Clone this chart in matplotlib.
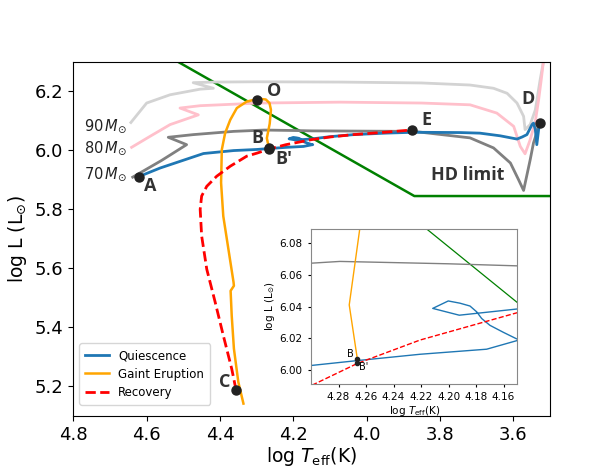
import matplotlib
matplotlib.use("Agg")
import matplotlib.pyplot as plt

# ---------------- data ----------------
# HD limit
hd_T = [4.60, 4.515, 3.870, 3.50]
hd_L = [6.36, 6.30, 5.845, 5.845]

# 90 Msun track (light grey)
m90_T = [4.643, 4.600, 4.536, 4.454, 4.418, 4.473, 4.418, 4.300, 4.072, 3.850, 3.718, 3.654,
         3.617, 3.590, 3.572, 3.568, 3.554, 3.540, 3.527, 3.518]
m90_L = [6.094, 6.160, 6.188, 6.207, 6.210, 6.229, 6.231, 6.232, 6.231, 6.228, 6.221, 6.210,
         6.193, 6.160, 6.115, 6.070, 6.087, 6.137, 6.238, 6.300]

# 80 Msun track (pink)
m80_T = [4.641, 4.591, 4.536, 4.459, 4.509, 4.454, 4.291, 4.072, 3.850, 3.718, 3.645, 3.599,
         3.581, 3.568, 3.554, 3.540, 3.531, 3.524, 3.518]
m80_L = [6.010, 6.047, 6.087, 6.120, 6.143, 6.151, 6.160, 6.163, 6.160, 6.154, 6.126, 6.081,
         6.013, 5.988, 6.036, 6.098, 6.171, 6.238, 6.300]

# 70 Msun track (grey)
m70_T = [4.638, 4.560, 4.491, 4.541, 4.473, 4.363, 4.279, 4.200, 4.150, 3.872, 3.718, 3.654,
         3.608, 3.586, 3.572, 3.554, 3.545, 3.536, 3.532]
m70_L = [5.909, 5.965, 6.019, 6.044, 6.053, 6.064, 6.0685, 6.067, 6.0657, 6.064, 6.042, 6.008,
         5.957, 5.901, 5.864, 5.968, 6.025, 6.060, 6.085]

# Quiescence (blue)
q_T = [4.621, 4.563, 4.445, 4.363, 4.300, 4.2663, 4.2207, 4.1723, 4.1504, 4.147, 4.1504,
       4.1602, 4.1699, 4.1759, 4.1795, 4.1844, 4.1917, 4.2002, 4.2115, 4.1922, 4.1504,
       4.100, 4.036, 3.950, 3.872, 3.745, 3.691, 3.636, 3.590, 3.576, 3.563, 3.549,
       3.545, 3.540, 3.536, 3.531, 3.527]
q_L = [5.911, 5.940, 5.989, 5.999, 6.0027, 6.0058, 6.0098, 6.0130, 6.0184, 6.0190, 6.0195,
       6.0237, 6.0281, 6.0324, 6.0366, 6.0403, 6.0421, 6.0435, 6.0388, 6.0345, 6.0384,
       6.046, 6.053, 6.058, 6.061, 6.060, 6.058, 6.049, 6.038, 6.045, 6.053, 6.087,
       6.092, 6.070, 6.019, 6.070, 6.090]

# Giant eruption (orange)
g_T = [4.2663, 4.2722, 4.2644, 4.261, 4.265, 4.275, 4.290, 4.310, 4.327, 4.354, 4.372,
       4.386, 4.395, 4.397, 4.391, 4.377, 4.363, 4.362, 4.371, 4.368, 4.362, 4.350, 4.336]
g_L = [6.0068, 6.041, 6.090, 6.137, 6.160, 6.172, 6.174, 6.170, 6.165, 6.143, 6.103,
       6.058, 6.002, 5.890, 5.777, 5.665, 5.553, 5.541, 5.524, 5.440, 5.328, 5.215, 5.142]

# Recovery (red dashed)
r_T = [4.356, 4.368, 4.391, 4.413, 4.436, 4.450, 4.454, 4.450, 4.436, 4.409, 4.372, 4.327,
       4.2986, 4.2663, 4.2207, 4.1504, 4.100, 4.036, 3.950, 3.875]
r_L = [5.187, 5.260, 5.373, 5.485, 5.597, 5.710, 5.800, 5.845, 5.878, 5.912, 5.946, 5.980,
       5.9905, 6.0040, 6.0188, 6.036, 6.045, 6.053, 6.061, 6.069]

# labelled points
pt_names = ["A", "O", "B", "B'", "E", "D", "C"]
pt_T = [4.621, 4.298, 4.2663, 4.2663, 3.875, 3.526, 4.356]
pt_L = [5.911, 6.171, 6.0068, 6.004, 6.069, 6.091, 5.187]
lab_T = [4.589, 4.252, 4.298, 4.225, 3.836, 3.561, 4.386]
lab_L = [5.878, 6.202, 6.042, 5.971, 6.103, 6.173, 5.215]

mass_labels = [r"$90\,M_{\odot}$", r"$80\,M_{\odot}$", r"$70\,M_{\odot}$"]
mass_T = [4.652, 4.652, 4.652]
mass_L = [6.083, 6.009, 5.918]

main_xticks = [4.8, 4.6, 4.4, 4.2, 4.0, 3.8, 3.6]
main_yticks = [5.2, 5.4, 5.6, 5.8, 6.0, 6.2]
ins_xticks = [4.28, 4.26, 4.24, 4.22, 4.20, 4.18, 4.16]
ins_yticks = [6.00, 6.02, 6.04, 6.06, 6.08]

# ---------------- figure ----------------
fig = plt.figure(figsize=(6.05, 4.66), dpi=100)
ax = fig.add_axes([73.3 / 605, 1 - 416 / 466, (550 - 73.3) / 605, (416 - 61.7) / 466])

ax.plot(hd_T, hd_L, color="green", lw=1.8)
ax.plot(m90_T, m90_L, color="lightgrey", lw=2)
ax.plot(m80_T, m80_L, color="pink", lw=2)
ax.plot(m70_T, m70_L, color="grey", lw=2)
lq, = ax.plot(q_T, q_L, color="#1f77b4", lw=2, label="Quiescence")
lg, = ax.plot(g_T, g_L, color="orange", lw=1.8, label="Gaint Eruption")
lr, = ax.plot(r_T, r_L, color="red", lw=2, ls="--", label="Recovery")
ax.plot(pt_T, pt_L, "o", color="#222222", ms=6.5, zorder=5)

for n, x, y in zip(pt_names, lab_T, lab_L):
    ax.text(x, y, n, fontsize=13, fontweight="bold", color="#333333",
            ha="center", va="center", family="Open Sans")
ax.text(3.725, 5.915, "HD limit", fontsize=13, fontweight="bold", color="#333333",
        ha="center", va="center", family="Open Sans")
for s, x, y in zip(mass_labels, mass_T, mass_L):
    ax.text(x, y, s, fontsize=10.5, ha="right", va="center", color="#222222")

ax.set_xlim(4.8, 3.5)
ax.set_ylim(5.1, 6.3)
ax.set_xticks(main_xticks)
ax.set_yticks(main_yticks)
ax.tick_params(labelsize=13)
ax.set_xlabel(r"log $T_{\rm eff}$(K)", fontsize=13.5, labelpad=1)
ax.set_ylabel(r"log L (L$_{\odot}$)", fontsize=13.5)
ax.legend(handles=[lq, lg, lr], loc="lower left", fontsize=8.5,
          handlelength=2.0, borderpad=0.5, labelspacing=0.45,
          bbox_to_anchor=(0.0, 0.015))

# ---------------- inset ----------------
ins = fig.add_axes([311 / 605, 1 - 384 / 466, (517.3 - 311) / 605, (384 - 229) / 466])
ins.plot(hd_T, hd_L, color="green", lw=0.9)
ins.plot(m70_T, m70_L, color="grey", lw=1)
ins.plot(q_T, q_L, color="#1f77b4", lw=1)
ins.plot(g_T, g_L, color="orange", lw=1)
ins.plot(r_T, r_L, color="red", lw=1, ls="--")
ins.plot(pt_T[2:4], pt_L[2:4], "o", color="#222222", ms=3, zorder=5)
ins.text(4.2711, 6.0102, "B", fontsize=7, ha="center", va="center")
ins.text(4.262, 6.0018, "B'", fontsize=7, ha="center", va="center")
ins.set_xlim(4.30, 4.15)
ins.set_ylim(5.991, 6.089)
ins.set_xticks(ins_xticks)
ins.set_yticks(ins_yticks)
ins.tick_params(labelsize=7.5, length=2.5)
ins.set_xlabel(r"log $T_{\rm eff}$(K)", fontsize=7.5, labelpad=1)
ins.set_ylabel(r"log L (L$_{\odot}$)", fontsize=7.5, labelpad=2)
for sp in ins.spines.values():
    sp.set_color("#888888")

fig.savefig("out.png", dpi=100)
